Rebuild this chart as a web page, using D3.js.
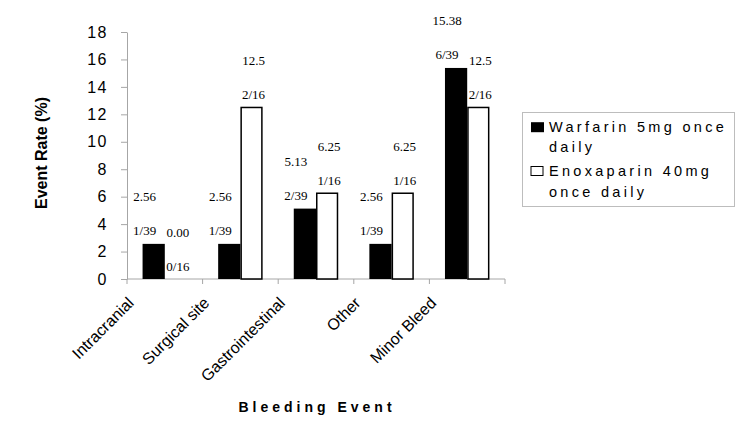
<!DOCTYPE html>
<html>
<head>
<meta charset="utf-8">
<script src="https://cdn.jsdelivr.net/npm/d3@7"></script>
<style>
  html, body { margin: 0; padding: 0; background: #fff; }
  svg { display: block; }
</style>
</head>
<body>
<svg id="chart" width="748" height="442"></svg>
<script>
// ---- data ----
const categories = ["Intracranial", "Surgical site", "Gastrointestinal", "Other", "Minor Bleed"];
const seriesNames = ["Warfarin 5mg once daily", "Enoxaparin 40mg once daily"];
const warfarinValues = [2.56, 2.56, 5.13, 2.56, 15.38];
const enoxaparinValues = [0.00, 12.5, 6.25, 6.25, 12.5];
const warfarinLabels = ["2.56", "2.56", "5.13", "2.56", "15.38"];
const enoxaparinLabels = ["0.00", "12.5", "6.25", "6.25", "12.5"];
const warfarinCounts = ["1/39", "1/39", "2/39", "1/39", "6/39"];
const enoxaparinCounts = ["0/16", "2/16", "1/16", "1/16", "2/16"];
const yTicks = [0, 2, 4, 6, 8, 10, 12, 14, 16, 18];
const yTitle = "Event Rate (%)";
const xTitle = "Bleeding Event";

// ---- layout ----
const svg = d3.select("#chart");
const pLeft = 127, pRight = 505, pTop = 32, pBottom = 279;
const axisColor = "#a6a6a6";

const x0 = d3.scaleBand().domain(categories).range([pLeft, pRight]).padding(0);
const x1 = d3.scaleBand().domain(seriesNames).range([0, x0.bandwidth()]).paddingInner(0).paddingOuter(0.7);
const y = d3.scaleLinear().domain([0, 18]).range([pBottom, pTop]);

const rows = categories.map((c, i) => ({
  cat: c,
  bars: [
    { s: seriesNames[0], v: warfarinValues[i], lab: warfarinLabels[i], cnt: warfarinCounts[i], fill: "#000", shift: -9 },
    { s: seriesNames[1], v: enoxaparinValues[i], lab: enoxaparinLabels[i], cnt: enoxaparinCounts[i], fill: "#fff", shift: 2 }
  ]
}));

// y axis
const yAxis = svg.append("g").attr("transform", `translate(${pLeft},0)`)
  .call(d3.axisLeft(y).tickValues(yTicks).tickSize(6).tickSizeOuter(0).tickPadding(13));
yAxis.select(".domain").attr("stroke", axisColor);
yAxis.selectAll(".tick line").attr("stroke", axisColor);
yAxis.selectAll(".tick text")
  .attr("font-family", "Liberation Sans, Arial, sans-serif")
  .attr("font-size", 16).attr("letter-spacing", "1.5px").attr("fill", "#000");

// x axis
const xAxis = svg.append("g").attr("transform", `translate(0,${pBottom})`);
xAxis.append("line").attr("x1", pLeft).attr("x2", pRight).attr("y1", 0).attr("y2", 0).attr("stroke", axisColor);
const bounds = categories.map(c => x0(c)).concat([pRight]);
xAxis.selectAll("line.tk").data(bounds).join("line").attr("class", "tk")
  .attr("x1", d => d).attr("x2", d => d).attr("y1", 0).attr("y2", 5).attr("stroke", axisColor);

// bars
const groups = svg.append("g").selectAll("g").data(rows).join("g")
  .attr("transform", d => `translate(${x0(d.cat)},0)`);
groups.selectAll("rect").data(d => d.bars.filter(b => b.v > 0)).join("rect")
  .attr("x", d => x1(d.s) + (d.fill === "#fff" ? 0.75 : 0))
  .attr("y", d => y(d.v))
  .attr("width", d => x1.bandwidth() - (d.fill === "#fff" ? 1.5 : 0))
  .attr("height", d => pBottom - y(d.v))
  .attr("fill", d => d.fill)
  .attr("stroke", d => d.fill === "#fff" ? "#000" : "none")
  .attr("stroke-width", 1.5);

// bar labels
const serif = "Liberation Serif, Times New Roman, serif";
groups.selectAll("text.cnt").data(d => d.bars).join("text").attr("class", "cnt")
  .attr("x", d => x1(d.s) + x1.bandwidth() / 2 + d.shift)
  .attr("y", d => y(d.v) - 8.5)
  .attr("text-anchor", "middle").attr("font-family", serif).attr("font-size", 13)
  .text(d => d.cnt);
groups.selectAll("text.val").data(d => d.bars).join("text").attr("class", "val")
  .attr("x", d => x1(d.s) + x1.bandwidth() / 2 + d.shift)
  .attr("y", d => y(d.v) - 42.5)
  .attr("text-anchor", "middle").attr("font-family", serif).attr("font-size", 13)
  .text(d => d.lab);

// x category labels
svg.append("g").selectAll("text").data(categories).join("text")
  .attr("transform", d => `translate(${x0(d) + x0.bandwidth() / 2 - 30},${pBottom + 25}) rotate(-45)`)
  .attr("text-anchor", "end")
  .attr("font-family", "Liberation Sans, Arial, sans-serif").attr("font-size", 16)
  .text(d => d);

// axis titles
svg.append("text")
  .attr("transform", `translate(47,153) rotate(-90)`)
  .attr("text-anchor", "middle")
  .attr("font-family", "Liberation Sans, Arial, sans-serif").attr("font-size", 16).attr("font-weight", "bold")
  .text(yTitle);
svg.append("text")
  .attr("x", (pLeft + pRight) / 2 + 1).attr("y", 412)
  .attr("text-anchor", "middle")
  .attr("font-family", "Liberation Sans, Arial, sans-serif").attr("font-size", 14).attr("font-weight", "bold")
  .attr("letter-spacing", "4px")
  .text(xTitle);

// legend
const lg = svg.append("g");
lg.append("rect").attr("x", 522.5).attr("y", 112.5).attr("width", 212).attr("height", 94)
  .attr("fill", "#fff").attr("stroke", "#bdbdbd");
const legendLines = [
  ["Warfarin 5mg once", "daily"],
  ["Enoxaparin 40mg", "once daily"]
];
const fills = ["#000", "#fff"];
const legendY = [131.7, 176];
seriesNames.forEach((s, i) => {
  lg.append("rect").attr("x", 531).attr("y", legendY[i] - 9.5).attr("width", i === 0 ? 13 : 12).attr("height", i === 0 ? 10 : 9)
    .attr("fill", fills[i]).attr("stroke", i === 0 ? "none" : "#000").attr("stroke-width", 1);
  const t = lg.append("text").attr("font-family", "Liberation Sans, Arial, sans-serif").attr("font-size", 14.5)
    .attr("letter-spacing", "3.3px");
  legendLines[i].forEach((ln, j) => {
    t.append("tspan").attr("x", 549).attr("y", legendY[i] + j * 20.5).text(ln);
  });
});
</script>
</body>
</html>
